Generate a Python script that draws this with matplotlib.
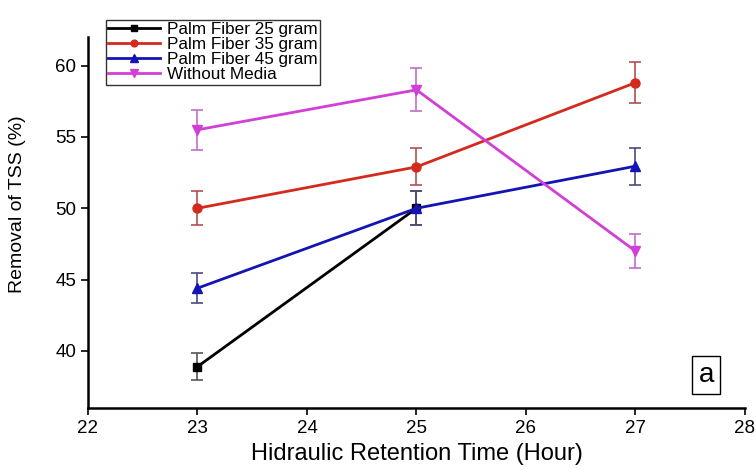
import numpy as np
import matplotlib.pyplot as plt

plt.rcParams['font.family'] = ['Liberation Sans', 'DejaVu Sans']

# hydraulic retention time (hour)
hrt = [23, 25, 27]

# removal of TSS (%) and error bars
pf25 = [38.9, 50.0]
pf25_err = [0.95, 1.2]
pf35 = [50.0, 52.9, 58.8]
pf35_err = [1.2, 1.3, 1.45]
pf45 = [44.4, 50.0, 52.95]
pf45_err = [1.07, 1.2, 1.3]
no_media = [55.5, 58.3, 47.0]
no_media_err = [1.4, 1.5, 1.2]

series = [
    ('Palm Fiber 25 gram', hrt[:2], pf25, pf25_err, 'black', 's', '#555555', 5.5),
    ('Palm Fiber 35 gram', hrt, pf35, pf35_err, '#d42a1e', 'o', '#b05050', 6.5),
    ('Palm Fiber 45 gram', hrt, pf45, pf45_err, '#1414b4', '^', '#4a4a80', 7),
    ('Without Media', hrt, no_media, no_media_err, '#d23fd6', 'v', '#c070c8', 7),
]

fig = plt.figure(figsize=(7.56, 4.69), dpi=100)
ax = fig.add_axes([0.1164, 0.130, 0.869, 0.791])

for label, x, y, err, col, mk, ecol, ms in series:
    ax.errorbar(x, y, yerr=err, fmt='none', ecolor=ecol, elinewidth=1.2,
                capsize=4, capthick=1.2, zorder=2)
    ax.plot(x, y, color=col, marker=mk, markersize=ms, linewidth=2,
            label=label, zorder=3)

ax.set_xlim(22, 28)
ax.set_ylim(36, 62)
ax.set_xticks(range(22, 29))
ax.set_yticks([40, 45, 50, 55, 60])
ax.spines['top'].set_visible(False)
ax.spines['right'].set_visible(False)
for s in ('left', 'bottom'):
    ax.spines[s].set_linewidth(1.8)
ax.tick_params(direction='out', length=5, width=1.2, labelsize=13.5)

ax.set_xlabel('Hidraulic Retention Time (Hour)', fontsize=17)
ax.xaxis.set_label_coords(0.5, -0.095)
ax.set_ylabel('Removal of TSS (%)', fontsize=14)
ax.yaxis.set_label_coords(-0.094, 0.55)

leg = ax.legend(loc='upper left', bbox_to_anchor=(0.014, 1.07), fontsize=12.3,
                frameon=True, fancybox=False, edgecolor='black',
                handlelength=3.0, borderpad=0.15, labelspacing=0.0,
                handletextpad=0.45, markerscale=0.75)
leg.get_frame().set_linewidth(1.0)

ax.text(0.941, 0.09, 'a', transform=ax.transAxes, fontsize=20,
        ha='center', va='center',
        bbox=dict(boxstyle='square,pad=0.22', facecolor='white',
                  edgecolor='black', linewidth=1.0))

fig.savefig('out.png', dpi=100)
